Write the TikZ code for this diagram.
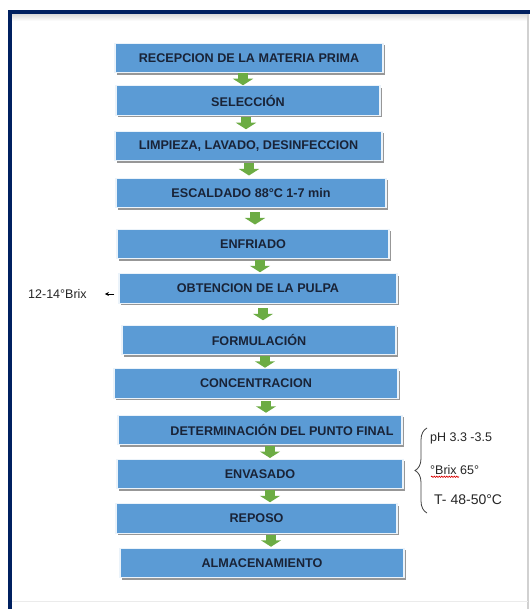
\documentclass[tikz,border=0pt]{standalone}
\usepackage{fontspec}
\setmainfont{Liberation Sans}
\usetikzlibrary{arrows.meta,shadows,calc,decorations.pathreplacing,decorations.pathmorphing}
\definecolor{boxblue}{RGB}{91,155,213}
\definecolor{navy}{RGB}{0,32,96}
\definecolor{txtdark}{RGB}{25,35,55}
\definecolor{arrgreen}{RGB}{108,172,68}
\tikzset{
  stepbox/.style={draw=white!88!boxblue, line width=1.2pt, fill=boxblue, text=txtdark,
    inner sep=0pt, minimum height=29.5pt,
    font=\fontsize{12.6}{14}\selectfont\bfseries,
    drop shadow={shadow xshift=1.6pt, shadow yshift=-2.2pt, fill=black!45, opacity=0.9}},
  flowarrow/.style={draw=arrgreen, line width=10pt, -{Triangle[width=20pt,length=6.5pt]}},
  sidetext/.style={inner sep=0pt, anchor=west, text=black!85},
}
\newcommand{\flowarr}[3]{%
  \draw[flowarrow] let \p1=(#1.south), \p2=(#2.north) in
    (#3pt, {(\y1+\y2)/2+6pt}) -- (#3pt, {(\y1+\y2)/2-6pt});}
\begin{document}
\begin{tikzpicture}[x=1pt,y=-1pt]
\useasboundingbox (0,0) rectangle (530,609);
% frame
\fill[white] (0,0) rectangle (530,609);
\shade[top color=black!15, bottom color=white] (12,14) rectangle (528,21);
\fill[navy] (8,10) rectangle (530,14);
\fill[navy] (8,10) rectangle (12,609);
\draw[black!18, line width=1.2pt] (528,14) -- (528,609);
\draw[black!8, line width=0.8pt] (12,601) -- (528,601);
% boxes
\node[stepbox, minimum width=268pt] (n1) at (249,58) {RECEPCION DE LA MATERIA PRIMA};
\node[stepbox, minimum width=264pt] (n2) at (248,100.5) {SELECCIÓN};
\node[stepbox, minimum width=267pt] (n3) at (248.5,146) {LIMPIEZA, LAVADO, DESINFECCION};
\node[stepbox, minimum width=270pt] (n4) at (251,193) {ESCALDADO 88°C 1-7 min};
\node[stepbox, minimum width=272pt] (n5) at (253,244) {ENFRIADO};
\node[stepbox, minimum width=278pt] (n6) at (258,288.5) {OBTENCION DE LA PULPA};
\node[stepbox, minimum width=274pt] (n7) at (259,340) {FORMULACIÓN};
\node[stepbox, minimum width=284pt] (n8) at (256,383.5) {CONCENTRACION};
\node[stepbox, minimum width=284pt] (n9) at (260,430) {\hspace*{44pt}DETERMINACIÓN DEL PUNTO FINAL};
\node[stepbox, minimum width=286pt] (n10) at (260,474) {ENVASADO};
\node[stepbox, minimum width=281pt] (n11) at (256.5,518.5) {REPOSO};
\node[stepbox, minimum width=284pt] (n12) at (262,563) {ALMACENAMIENTO};
% green arrows
\flowarr{n1}{n2}{243}
\flowarr{n2}{n3}{246}
\flowarr{n3}{n4}{249}
\flowarr{n4}{n5}{255}
\flowarr{n5}{n6}{260}
\flowarr{n6}{n7}{263}
\flowarr{n7}{n8}{265}
\flowarr{n8}{n9}{266}
\flowarr{n9}{n10}{270}
\flowarr{n10}{n11}{270}
\flowarr{n11}{n12}{271}
% side notes
\node[sidetext, font=\fontsize{12.5}{14}\selectfont] (brixl) at (28,294) {12-14°Brix};
\draw[black, line width=0.6pt, -{Stealth[length=4pt,width=4pt]}] ([xshift=-4pt]n6.west |- brixl.east) -- ([xshift=18pt]brixl.east);
\node[sidetext, font=\fontsize{12.5}{14}\selectfont] (ph) at (430,438) {pH 3.3 -3.5};
\node[sidetext, font=\fontsize{12.5}{14}\selectfont] (bx) at (430,470) {°Brix 65°};
\node[sidetext, font=\fontsize{14}{16}\selectfont] (tt) at (434,500) {T- 48-50°C};
\draw[red!85!black, line width=0.6pt, decorate, decoration={snake, amplitude=0.7pt, segment length=2.5pt}] ([xshift=1pt,yshift=-2pt]bx.south west) -- ([xshift=29pt,yshift=-2pt]bx.south west);
\draw[black!75, line width=0.8pt, decorate, decoration={brace, amplitude=12pt}] (427,513) -- (427,428);
\end{tikzpicture}
\end{document}
